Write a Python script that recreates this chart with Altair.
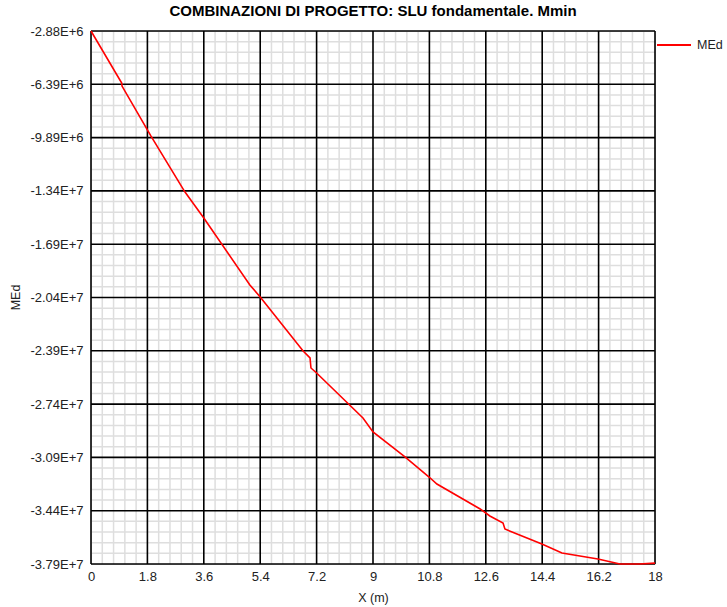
import altair as alt
import numpy as np
import pandas as pd

# ---- data ----
x_vals = [0.0, 0.98, 0.99, 1.91, 3.0, 3.6, 5.07, 5.4, 6.77, 6.99, 7.02, 7.2, 8.68,
          9.0, 10.02, 10.79, 11.04, 12.42, 12.73, 13.15, 13.21, 14.39, 15.03,
          16.18, 16.88, 17.5, 18.0]
med_vals = [-2.88e6, -6.30e6, -6.50e6, -9.78e6, -1.347e7, -1.518e7, -1.958e7,
            -2.037e7, -2.392e7, -2.438e7, -2.504e7, -2.537e7, -2.833e7,
            -2.925e7, -3.089e7, -3.221e7, -3.267e7, -3.431e7, -3.477e7,
            -3.523e7, -3.563e7, -3.661e7, -3.721e7, -3.760e7, -3.793e7,
            -3.793e7, -3.787e7]
series_name = "MEd"

x_ticks = [0, 1.8, 3.6, 5.4, 7.2, 9, 10.8, 12.6, 14.4, 16.2, 18]
y_top = -2.88e6
y_step = 3.505e6
y_ticks = [y_top - i * y_step for i in range(11)]
y_bottom = y_ticks[-1]

x_dom = [0, 18]
y_dom = [y_bottom, y_top]

# grid line positions (5 subdivisions per major cell)
x_minor = [k * 0.36 for k in range(51) if k % 5 != 0]
y_minor = [y_top - k * y_step / 5 for k in range(51) if k % 5 != 0]

df = pd.DataFrame({"x": x_vals, "MEd": med_vals, "series": series_name})
xminor_df = pd.DataFrame({"x": x_minor})
yminor_df = pd.DataFrame({"MEd": y_minor})
xmajor_df = pd.DataFrame({"x": x_ticks})
ymajor_df = pd.DataFrame({"MEd": y_ticks})

FONT = "Liberation Sans"
xs = alt.Scale(domain=x_dom, nice=False, zero=False)
ys = alt.Scale(domain=y_dom, nice=False, zero=False)

x_axis = alt.Axis(values=x_ticks, labelExpr="format(datum.value, '~g')",
                  grid=False, domain=False, ticks=False, labelPadding=6,
                  labelFontSize=13, labelFont=FONT, labelColor="#222222",
                  titleFont=FONT, titleFontSize=12.5, titleFontWeight="normal",
                  titleColor="#222222", titleY=27, titleX=282, labelFlush=False)
y_axis = alt.Axis(values=y_ticks,
                  labelExpr="replace(replace(format(datum.value, '.2e'), 'e', 'E'), '\u2212', '-')",
                  grid=False, domain=False, ticks=False, labelPadding=8,
                  labelFontSize=13, labelFont=FONT, labelColor="#222222",
                  titleFont=FONT, titleFontSize=12.5, titleFontWeight="normal",
                  titleColor="#222222", titleX=-69, titleY=266, labelFlush=False)

X = alt.X("x:Q", scale=xs, title="X (m)", axis=x_axis)
Y = alt.Y("MEd:Q", scale=ys, title="MEd", axis=y_axis)

minor_col = "#dedede"
vx_minor = alt.Chart(xminor_df).mark_rule(color=minor_col, strokeWidth=1.5).encode(x=X)
hy_minor = alt.Chart(yminor_df).mark_rule(color=minor_col, strokeWidth=1.5).encode(y=Y)
vx_major = alt.Chart(xmajor_df).mark_rule(color="#000000", strokeWidth=1.6).encode(x=X)
hy_major = alt.Chart(ymajor_df).mark_rule(color="#000000", strokeWidth=1.6).encode(y=Y)

line = alt.Chart(df).mark_line(strokeWidth=1.6, interpolate="linear").encode(
    x=X, y=Y,
    color=alt.Color("series:N", scale=alt.Scale(domain=[series_name], range=["#ff0000"]),
                    legend=alt.Legend(title=None, orient="none", legendX=565, legendY=-4,
                                      symbolType="stroke", symbolSize=1156,
                                      symbolStrokeWidth=2, labelFont=FONT,
                                      labelFontSize=12.5, labelColor="#222222",
                                      labelOffset=5)),
)

chart = alt.layer(vx_minor, hy_minor, vx_major, hy_major, line).properties(
    width=564, height=533,
    padding={"left": 91, "top": 31, "right": 72, "bottom": 43},
    autosize="none",
    title=alt.TitleParams("COMBINAZIONI DI PROGETTO: SLU fondamentale. Mmin",
                          font=FONT, fontSize=15, fontWeight="bold", color="#000000",
                          anchor="middle", offset=6),
).configure_view(stroke="#000000", strokeWidth=2).configure(background="white")

chart.save("out.html", embed_options={"renderer": "svg", "actions": False})
